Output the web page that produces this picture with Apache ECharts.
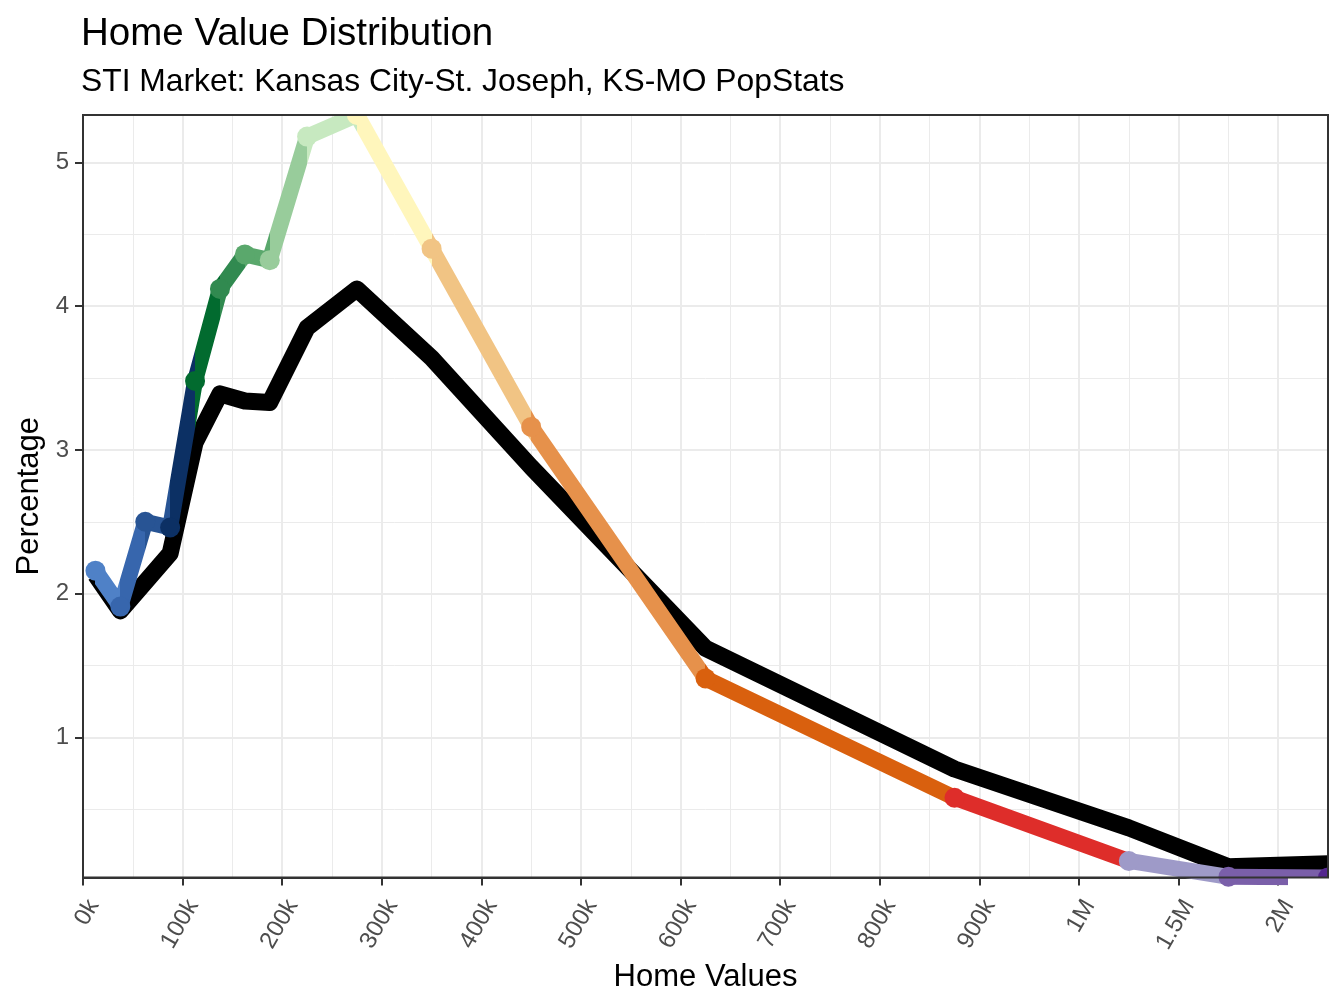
<!DOCTYPE html>
<html>
<head>
<meta charset="utf-8">
<title>Home Value Distribution</title>
<script src="https://cdn.jsdelivr.net/npm/echarts@6.0.0/dist/echarts.min.js"></script>
<style>
  html, body { margin: 0; padding: 0; background: #fff; }
  #chart { width: 1344px; height: 1008px; }
</style>
</head>
<body>
<div id="chart"></div>
<script>
// bin midpoints of home value ($)
const homeValues = [12500, 37500, 62500, 87500, 112500, 137500, 162500, 187500,
  225000, 275000, 350000, 450000, 625000, 875000, 1250000, 1750000, 2250000];
// whole market, % of homes per bin (black line)
const marketPct = [2.13, 1.88, 2.08, 2.28, 3.05, 3.39, 3.34, 3.33,
  3.85, 4.12, 3.64, 2.88, 1.62, 0.78, 0.37, 0.1, 0.12];
// STI market, % of homes per bin (coloured line)
const stiPct = [2.16, 1.91, 2.5, 2.46, 3.48, 4.12, 4.36, 4.32,
  5.18, 5.33, 4.4, 3.16, 1.41, 0.58, 0.14, 0.03, 0.025];
const stiColors = ['#4f81c7', '#3766ad', '#285494', '#0c3064', '#026b2f', '#318a50',
  '#5aa86c', '#98cc9b', '#c7e9c0', '#fff6bc', '#f1c484', '#e6914b', '#d9600e',
  '#de2d2a', '#9e9ac8', '#7a5fa9', '#54278f'];

const xTickValues = [0, 1, 2, 3, 4, 5, 6, 7, 8, 9, 10, 11, 12];
const xTickLabels = ['0k', '100k', '200k', '300k', '400k', '500k', '600k', '700k',
  '800k', '900k', '1M', '1.5M', '2M'];
const yTickValues = [1, 2, 3, 4, 5];
const xMinorValues = [0.5, 1.5, 2.5, 3.5, 4.5, 5.5, 6.5, 7.5, 8.5, 9.5, 10.5, 11.5];
const yMinorValues = [0.5, 1.5, 2.5, 3.5, 4.5];

// axis is linear up to 1M, then one step per 500k
function toPos(v) {
  return v <= 1e6 ? v / 1e5 : 10 + (v - 1e6) / 5e5;
}

const W = 1344, H = 1008;
const grid = { left: 83, top: 115, right: 16, bottom: 130.5 };
const plotR = W - grid.right, plotB = H - grid.bottom;
const FONT = '"Liberation Sans", Arial, sans-serif';

const xPos = homeValues.map(toPos);
const pieces = xPos.map((p, i) => ({
  gte: p,
  lt: i < xPos.length - 1 ? xPos[i + 1] : 13,
  color: stiColors[i]
}));

const minorLines = xMinorValues.map(v => ({ xAxis: v }))
  .concat(yMinorValues.map(v => ({ yAxis: v })));

const chart = echarts.init(document.getElementById('chart'));
chart.setOption({
  animation: false,
  backgroundColor: '#fff',
  title: {
    text: 'Home Value Distribution',
    subtext: 'STI Market: Kansas City-St. Joseph, KS-MO PopStats',
    left: 81,
    top: 15,
    padding: 0,
    itemGap: 12,
    textStyle: { fontFamily: FONT, fontSize: 38.5, fontWeight: 'normal', color: '#000' },
    subtextStyle: { fontFamily: FONT, fontSize: 31.8, color: '#000' }
  },
  grid: {
    left: grid.left, top: grid.top, right: grid.right, bottom: grid.bottom,
    containLabel: false,
    outerBoundsMode: 'none'
  },
  xAxis: {
    type: 'value',
    min: 0,
    max: 12.5,
    interval: 1,
    name: 'Home Values',
    nameLocation: 'middle',
    nameGap: 84,
    nameTextStyle: { fontFamily: FONT, fontSize: 31, color: '#000' },
    axisLine: { show: true, lineStyle: { color: '#333', width: 2 } },
    axisTick: { show: true, length: 8, lineStyle: { color: '#333', width: 2 }, customValues: xTickValues },
    axisLabel: {
      customValues: xTickValues,
      rotate: 60,
      margin: 18,
      verticalAlign: 'top',
      fontFamily: FONT,
      fontSize: 24,
      color: '#4d4d4d',
      formatter: v => xTickLabels[Math.round(v)]
    },
    splitLine: { show: true, lineStyle: { color: '#ebebeb', width: 2 } }
  },
  yAxis: {
    type: 'value',
    min: 0.025,
    max: 5.33,
    name: 'Percentage',
    nameLocation: 'middle',
    nameRotate: 90,
    nameGap: 38,
    nameTextStyle: { fontFamily: FONT, fontSize: 31, color: '#000' },
    axisLine: { show: true, lineStyle: { color: '#333', width: 2 } },
    axisTick: { show: true, length: 8, lineStyle: { color: '#333', width: 2 }, customValues: yTickValues },
    axisLabel: {
      customValues: yTickValues,
      margin: 14,
      fontFamily: FONT,
      fontSize: 24,
      color: '#4d4d4d'
    },
    splitLine: { show: true, lineStyle: { color: '#ebebeb', width: 2 } }
  },
  visualMap: {
    type: 'piecewise',
    show: false,
    dimension: 0,
    seriesIndex: 1,
    pieces: pieces
  },
  series: [
    {
      name: 'Market',
      type: 'line',
      z: 2,
      data: homeValues.map((v, i) => [toPos(v), marketPct[i]]),
      symbol: 'none',
      lineStyle: { color: '#000', width: 17, join: 'round', cap: 'butt' },
      markLine: {
        silent: true,
        z: 1,
        symbol: 'none',
        label: { show: false },
        lineStyle: { color: '#ebebeb', width: 1, type: 'solid' },
        emphasis: { disabled: true },
        data: minorLines
      }
    },
    {
      name: 'STI',
      type: 'line',
      z: 3,
      data: homeValues.map((v, i) => [toPos(v), stiPct[i]]),
      symbol: 'circle',
      symbolSize: 20,
      itemStyle: { borderWidth: 0 },
      lineStyle: { width: 16, join: 'round' }
    }
  ],
  graphic: [
    // white masks so marks are cut at the panel edge, then the panel border on top
    { type: 'rect', z: 100, silent: true,
      shape: { x: grid.left - 12, y: grid.top - 14, width: W - grid.left + 12, height: 14 },
      style: { fill: '#fff' } },
    { type: 'rect', z: 100, silent: true,
      shape: { x: plotR, y: grid.top - 14, width: grid.right, height: plotB - grid.top + 26 },
      style: { fill: '#fff' } },
    { type: 'rect', z: 100, silent: true,
      shape: { x: plotR - 40, y: plotB, width: grid.right + 40, height: 12 },
      style: { fill: '#fff' } },
    { type: 'rect', z: 101, silent: true,
      shape: { x: grid.left, y: grid.top, width: plotR - grid.left, height: plotB - grid.top },
      style: { fill: 'none', stroke: '#333', lineWidth: 2 } }
  ]
});
</script>
</body>
</html>
